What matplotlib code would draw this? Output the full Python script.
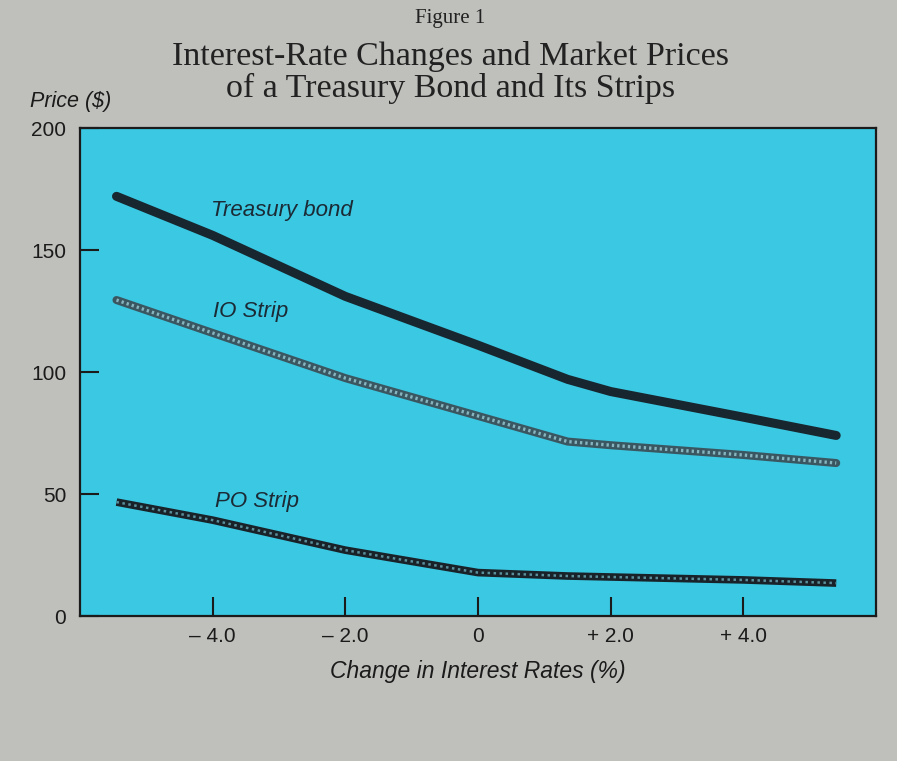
import matplotlib.pyplot as plt

# values
rate_change = [-5.45, -4.0, -2.0, 0.0, 1.35, 2.0, 4.0, 5.4]
treasury = [172, 156, 131, 111, 97, 92, 81.5, 74]
io_strip = [129.5, 116, 97.5, 82, 71.5, 70, 66, 62.7]
po_strip = [46.7, 39.3, 27, 17.8, 16.4, 16, 14.8, 13.5]

xticks = [-4, -2, 0, 2, 4]
xtick_labels = ['\u2013 4.0', '\u2013 2.0', '0', '+ 2.0', '+ 4.0']
yticks = [0, 50, 100, 150, 200]

bg = '#bfc0bb'
panel = '#3ac8e2'

fig = plt.figure(figsize=(8.97, 7.61), dpi=100, facecolor=bg)
ax = fig.add_axes([0.0892, 0.1905, 0.8874, 0.6413], facecolor=panel)

# treasury bond: solid dark line
ax.plot(rate_change, treasury, color='#17262f', lw=6.5, solid_capstyle='round',
        solid_joinstyle='round')

# IO strip: mesh-like textured line
ax.plot(rate_change, io_strip, color='#3a5660', lw=5.8, solid_capstyle='round',
        solid_joinstyle='round')
ax.plot(rate_change, io_strip, color='#86b4bf', lw=2.4, ls=(0, (0.7, 0.9)))

# PO strip: darker chain-like textured line
ax.plot(rate_change, po_strip, color='#182228', lw=5.5, solid_capstyle='butt',
        solid_joinstyle='round')
ax.plot(rate_change, po_strip, color='#5a8f9c', lw=1.8, ls=(0, (1.0, 1.4)))

lab = dict(style='italic', family='Liberation Sans', fontsize=16, color='#1b2a35')
ax.text(-4.02, 166, 'Treasury bond', ha='left', va='center', **lab)
ax.text(-4.0, 125, 'IO Strip', ha='left', va='center', **lab)
ax.text(-3.97, 47, 'PO Strip', ha='left', va='center', **lab)

ax.set_xlim(-6, 6)
ax.set_ylim(0, 200)
ax.set_xticks(xticks)
ax.set_xticklabels(xtick_labels)
ax.set_yticks(yticks)
ax.tick_params(axis='both', direction='in', length=14, width=1.5, color='#1b1b1b',
               labelsize=15, labelcolor='#1b1b1b')
ax.tick_params(axis='y', pad=10)
ax.tick_params(axis='x', pad=8)
for lbl in ax.get_xticklabels() + ax.get_yticklabels():
    lbl.set_family('Liberation Sans')
for s in ax.spines.values():
    s.set_linewidth(1.6)
    s.set_color('#1b1b1b')

ax.set_xlabel('Change in Interest Rates (%)', style='italic', family='Liberation Sans',
              fontsize=16.5, color='#1b1b1b', labelpad=10)
fig.text(0.033, 0.866, 'Price ($)', style='italic', family='Liberation Sans',
         fontsize=15.5, color='#1b1b1b', ha='left', va='center')

fig.text(0.502, 0.976, 'Figure 1', family='Liberation Serif', fontsize=15,
         color='#222', ha='center', va='center')
fig.text(0.502, 0.905, 'Interest-Rate Changes and Market Prices\nof a Treasury Bond and Its Strips',
         family='Liberation Serif', fontsize=24.5, color='#222', ha='center', va='center',
         linespacing=1.05)

plt.savefig('out.png', dpi=100, facecolor=bg)
